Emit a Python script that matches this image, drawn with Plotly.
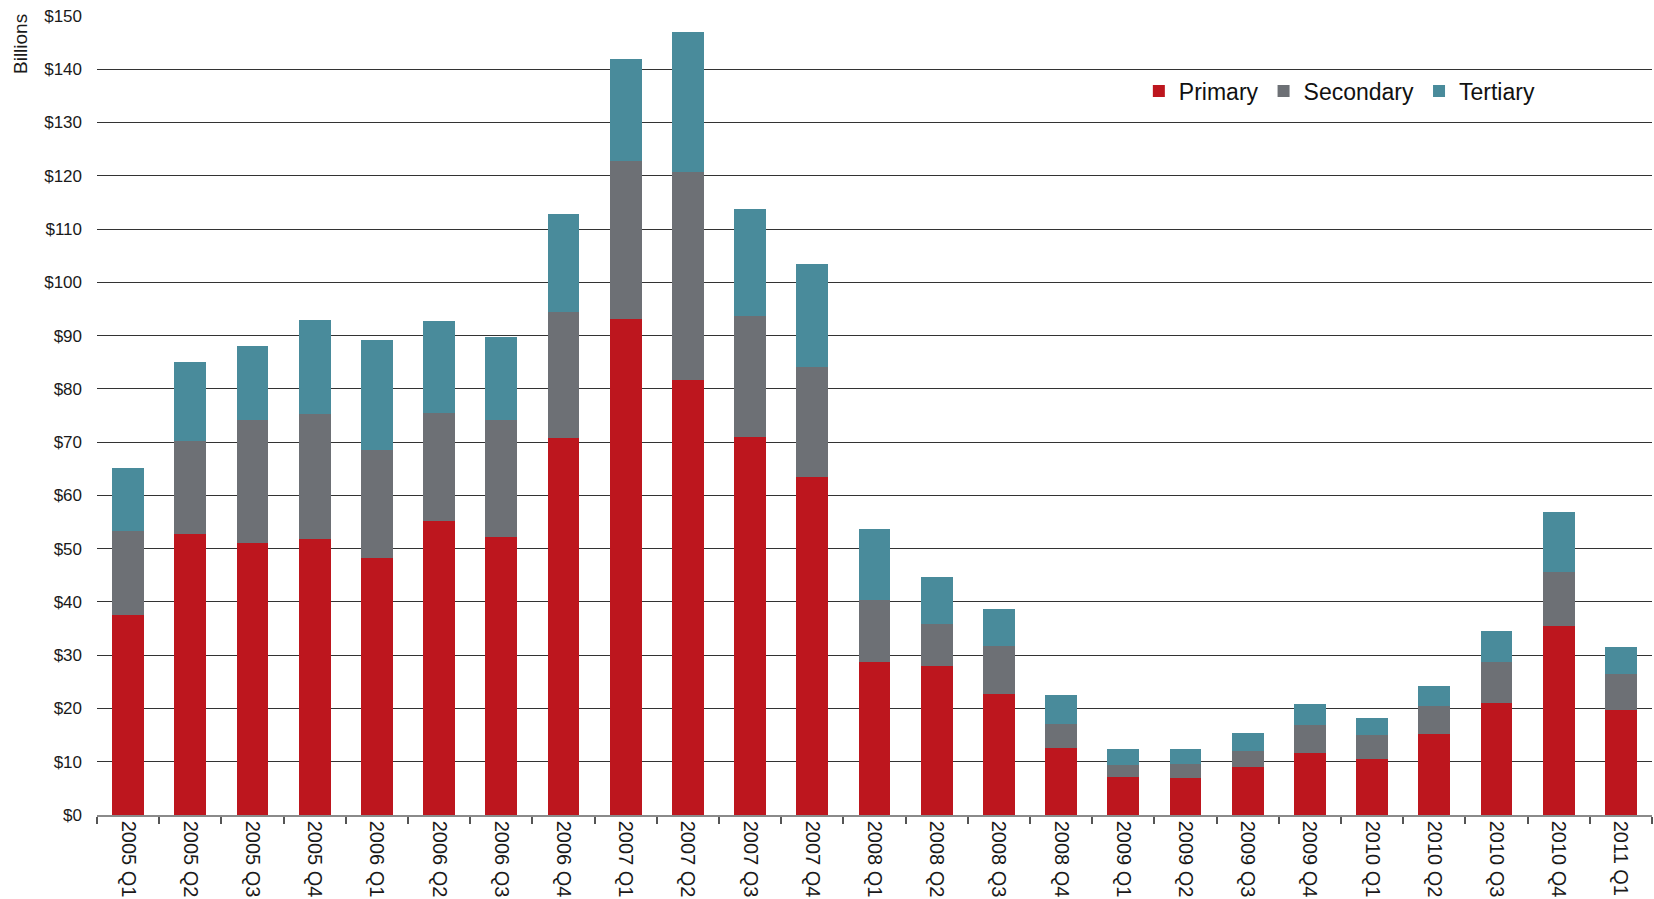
import plotly.graph_objects as go

quarters = [
    "2005 Q1", "2005 Q2", "2005 Q3", "2005 Q4",
    "2006 Q1", "2006 Q2", "2006 Q3", "2006 Q4",
    "2007 Q1", "2007 Q2", "2007 Q3", "2007 Q4",
    "2008 Q1", "2008 Q2", "2008 Q3", "2008 Q4",
    "2009 Q1", "2009 Q2", "2009 Q3", "2009 Q4",
    "2010 Q1", "2010 Q2", "2010 Q3", "2010 Q4",
    "2011 Q1",
]

# Billions of dollars per quarter
primary = [37.6, 52.8, 51.1, 51.9, 48.3, 55.2, 52.2, 70.8,
           93.1, 81.6, 71.0, 63.5, 28.7, 27.9, 22.7, 12.5,
           7.1, 6.9, 9.0, 11.6, 10.5, 15.2, 21.0, 35.4, 19.7]
secondary = [15.8, 17.4, 23.1, 23.3, 20.2, 20.3, 22.0, 23.6,
             29.6, 39.2, 22.6, 20.6, 11.6, 7.9, 9.1, 4.5,
             2.3, 2.7, 3.0, 5.3, 4.5, 5.2, 7.8, 10.3, 6.7]
tertiary = [11.8, 14.8, 13.8, 17.7, 20.6, 17.2, 15.6, 18.5,
            19.2, 26.2, 20.1, 19.3, 13.3, 8.8, 6.8, 5.5,
            3.0, 2.8, 3.4, 3.9, 3.2, 3.9, 5.8, 11.2, 5.2]

y_ticks = list(range(0, 151, 10))
y_tick_labels = [f"${v}" for v in y_ticks]

series = [
    ("Primary", primary, "#BD161E"),
    ("Secondary", secondary, "#6D7075"),
    ("Tertiary", tertiary, "#498B9B"),
]

fig = go.Figure()
for name, vals, color in series:
    fig.add_trace(go.Bar(
        x=quarters, y=vals, name=name,
        marker=dict(color=color, line=dict(width=0)),
    ))

fig.update_layout(
    width=1654, height=899,
    margin=dict(l=97, r=2, t=16, b=82, pad=0),
    barmode="stack",
    bargap=0.486,
    paper_bgcolor="white",
    plot_bgcolor="white",
    font=dict(family="Liberation Sans, Arial, sans-serif", color="#1a1a1a"),
    showlegend=True,
    legend=dict(
        orientation="h",
        traceorder="normal",
        x=0.670, y=0.906, xanchor="left", yanchor="middle",
        font=dict(family="Liberation Sans, Arial, sans-serif", size=23, color="#111"),
        bgcolor="rgba(0,0,0,0)",
        itemclick=False,
    ),
    xaxis=dict(
        type="category",
        tickangle=90,
        tickfont=dict(family="Liberation Sans Narrow, Arial Narrow, sans-serif", size=20, color="#1a1a1a"),
        showgrid=False,
        showline=True, linecolor="#8a8a8a", linewidth=1.5,
        ticks="outside", tickson="boundaries", ticklen=7, tickwidth=1.5, tickcolor="#555",
        range=[-0.5, len(quarters) - 0.5],
    ),
    yaxis=dict(
        range=[0, 150],
        tickvals=y_ticks,
        ticktext=y_tick_labels,
        tickfont=dict(family="Liberation Sans, Arial, sans-serif", size=17, color="#1a1a1a"),
        showgrid=True, gridcolor="#333333", gridwidth=1,
        zeroline=False,
        showline=False,
        ticks="",
        ticklabelstandoff=14,
    ),
    annotations=[
        dict(
            text="Billions", textangle=-90,
            xref="paper", yref="paper",
            x=0, y=1, xanchor="center", yanchor="middle",
            xshift=-77, yshift=-28,
            showarrow=False,
            font=dict(family="Liberation Sans Narrow, Arial Narrow, sans-serif", size=19, color="#1a1a1a"),
        )
    ],
)

fig.write_html("out.html")
